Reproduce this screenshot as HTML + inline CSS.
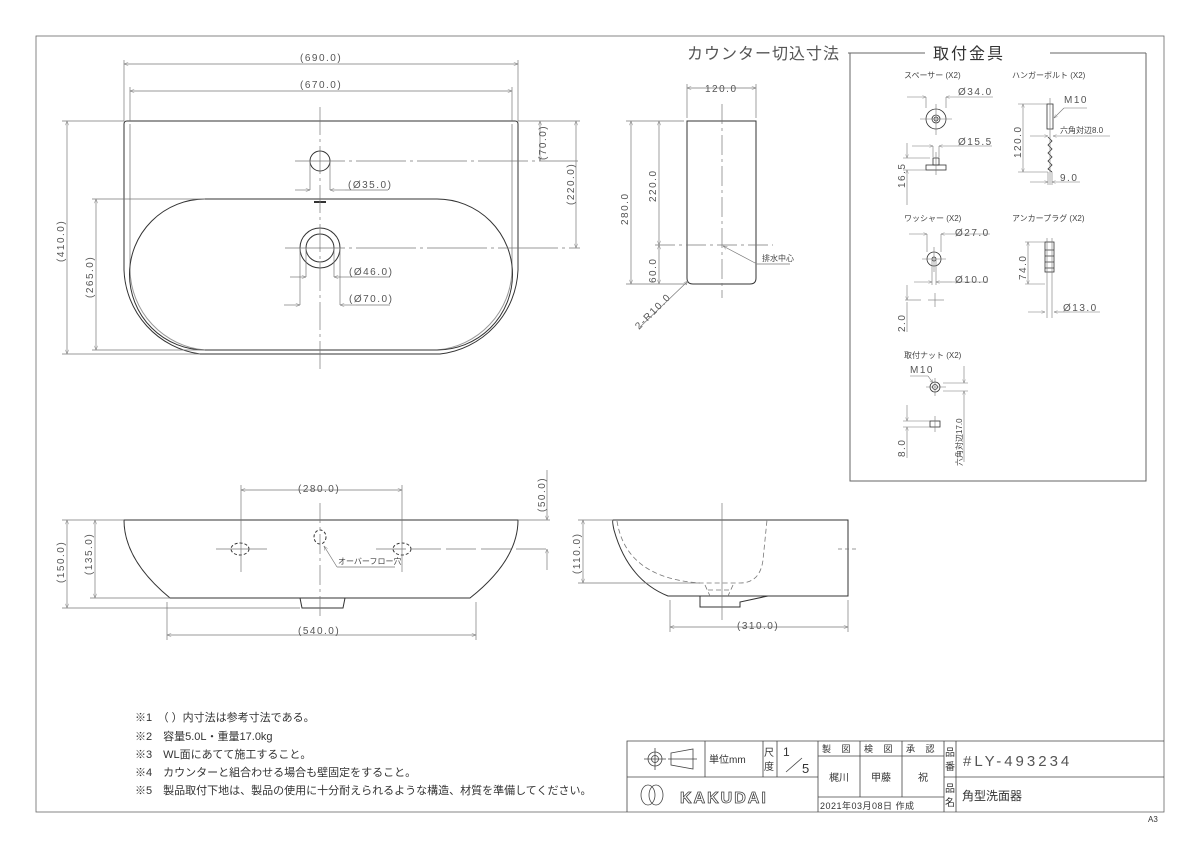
<!DOCTYPE html>
<html><head><meta charset="utf-8"><style>
html,body{margin:0;padding:0;background:#fff;width:1200px;height:848px;overflow:hidden}
svg{display:block}
text{font-family:"Liberation Sans","Noto Sans CJK JP",sans-serif;fill:#333}
.d{font-size:10px;letter-spacing:1.5px;fill:#555}
.s{font-size:8px;fill:#444}
</style></head><body>
<svg width="1200" height="848" viewBox="0 0 1200 848" xmlns="http://www.w3.org/2000/svg">
<defs>
<marker id="a" viewBox="0 0 10 10" refX="10" refY="5" markerWidth="8" markerHeight="6" orient="auto-start-reverse"><path d="M0,1 L10,5 L0,9" fill="none" stroke="#777" stroke-width="1"/></marker>
</defs>
<g fill="none" stroke="#888" stroke-width="0.8">
<rect x="36" y="36" width="1128" height="776" stroke="#666"/>
</g>
<text x="687" y="59" style="font-size:16px;letter-spacing:1px;fill:#555">カウンター切込寸法</text>
<line x1="848" y1="53" x2="925" y2="53" stroke="#666"/>
<text x="933" y="59" style="font-size:16px;letter-spacing:2px">取付金具</text>
<line x1="1050" y1="53" x2="1146" y2="53" stroke="#666"/>
<path d="M850,53 V481 H1146 V53" fill="none" stroke="#666"/>

<g fill="none" stroke="#333" stroke-width="1">
<path d="M124,124 Q124,121 127,121 H515 Q518,121 518,124 V270 A88,88 0 0 1 440,354 H200 A88,88 0 0 1 124,270 Z"/>
<path d="M130,124 V270 A82,82 0 0 0 205,350" stroke="#999"/>
<path d="M512,124 V270 A82,82 0 0 1 437,350" stroke="#999"/>
<path d="M205,199 H437 A75,75 0 0 1 437,350 H205 A75,75 0 0 1 205,199 Z"/>
<circle cx="320" cy="161" r="10"/>
<circle cx="320" cy="248" r="14"/>
<circle cx="320" cy="248" r="20"/>
<line x1="314" y1="202" x2="326" y2="202" stroke-width="2"/>
</g>
<g stroke="#777" stroke-width="0.7" fill="none">
<line x1="320" y1="107" x2="320" y2="372" stroke-dasharray="28,4,3,4"/>
<line x1="295" y1="161" x2="578" y2="161" stroke-dasharray="50,4,3,4"/>
<line x1="285" y1="248" x2="580" y2="248" stroke-dasharray="60,4,3,4"/>
<line x1="124" y1="60" x2="124" y2="121"/><line x1="518" y1="60" x2="518" y2="121"/>
<line x1="130" y1="87" x2="130" y2="121"/><line x1="512" y1="87" x2="512" y2="121"/>
<line x1="124" y1="64" x2="518" y2="64" marker-start="url(#a)" marker-end="url(#a)"/>
<line x1="130" y1="91" x2="512" y2="91" marker-start="url(#a)" marker-end="url(#a)"/>
<line x1="62" y1="121" x2="124" y2="121"/><line x1="62" y1="354" x2="200" y2="354"/>
<line x1="92" y1="199" x2="205" y2="199"/><line x1="92" y1="350" x2="205" y2="350"/>
<line x1="67" y1="121" x2="67" y2="354" marker-start="url(#a)" marker-end="url(#a)"/>
<line x1="96" y1="199" x2="96" y2="350" marker-start="url(#a)" marker-end="url(#a)"/>
<line x1="518" y1="121" x2="580" y2="121"/>
<line x1="540" y1="121" x2="540" y2="161" marker-start="url(#a)" marker-end="url(#a)"/>
<line x1="576" y1="121" x2="576" y2="248" marker-start="url(#a)" marker-end="url(#a)"/>
<line x1="310" y1="161" x2="310" y2="190"/><line x1="330" y1="161" x2="330" y2="190"/>
<line x1="295" y1="190" x2="310" y2="190" marker-end="url(#a)"/><line x1="345" y1="190" x2="330" y2="190" marker-end="url(#a)"/><line x1="345" y1="190" x2="388" y2="190"/>
<line x1="306" y1="248" x2="306" y2="277"/><line x1="334" y1="248" x2="334" y2="277"/>
<line x1="290" y1="277" x2="306" y2="277" marker-end="url(#a)"/><line x1="350" y1="277" x2="334" y2="277" marker-end="url(#a)"/><line x1="350" y1="277" x2="390" y2="277"/>
<line x1="300" y1="248" x2="300" y2="305"/><line x1="340" y1="248" x2="340" y2="305"/>
<line x1="284" y1="305" x2="300" y2="305" marker-end="url(#a)"/><line x1="356" y1="305" x2="340" y2="305" marker-end="url(#a)"/><line x1="356" y1="305" x2="390" y2="305"/>
</g>
<text class="d" x="300" y="61">(690.0)</text>
<text class="d" x="300" y="88">(670.0)</text>
<text class="d" x="348" y="188">(Ø35.0)</text>
<text class="d" x="349" y="275">(Ø46.0)</text>
<text class="d" x="349" y="302">(Ø70.0)</text>
<text class="d" transform="translate(64,262) rotate(-90)">(410.0)</text>
<text class="d" transform="translate(93,298) rotate(-90)">(265.0)</text>
<text class="d" transform="translate(546,160) rotate(-90)">(70.0)</text>
<text class="d" transform="translate(574,205) rotate(-90)">(220.0)</text>

<g fill="none" stroke="#333" stroke-width="1">
<path d="M687,121 H756 V278 Q756,284 750,284 H693 Q687,284 687,278 Z"/>
</g>
<g stroke="#777" stroke-width="0.7" fill="none">
<line x1="722" y1="104" x2="722" y2="298" stroke-dasharray="20,4,3,4"/>
<line x1="655" y1="245" x2="773" y2="245" stroke-dasharray="20,4,3,4"/>
<line x1="687" y1="84" x2="687" y2="118"/><line x1="756" y1="84" x2="756" y2="118"/>
<line x1="687" y1="88" x2="756" y2="88" marker-start="url(#a)" marker-end="url(#a)"/>
<line x1="626" y1="121" x2="684" y2="121"/><line x1="626" y1="284" x2="687" y2="284"/>
<line x1="631" y1="121" x2="631" y2="284" marker-start="url(#a)" marker-end="url(#a)"/>
<line x1="659" y1="121" x2="659" y2="245" marker-start="url(#a)" marker-end="url(#a)"/>
<line x1="659" y1="245" x2="659" y2="284" marker-start="url(#a)" marker-end="url(#a)"/>
<line x1="640" y1="327" x2="688" y2="281" marker-end="url(#a)"/>
<line x1="790" y1="264" x2="757" y2="264"/><line x1="757" y1="264" x2="723" y2="246" marker-end="url(#a)"/>
</g>
<text class="d" x="705" y="92">120.0</text>
<text class="d" transform="translate(628,225) rotate(-90)">280.0</text>
<text class="d" transform="translate(656,202) rotate(-90)">220.0</text>
<text class="d" transform="translate(656,283) rotate(-90)">60.0</text>
<text class="d" transform="translate(639,330) rotate(-45)">2-R10.0</text>
<text class="s" x="762" y="261">排水中心</text>

<g fill="none" stroke="#333" stroke-width="1">
<path d="M124,520 H518 Q518,560 470,598 H170 Q124,560 124,520 Z"/>
<path d="M300,598 L302,608 H343 L345,598"/>
<ellipse cx="240" cy="549" rx="9" ry="6" stroke-dasharray="3,2"/>
<ellipse cx="402" cy="549" rx="9" ry="6" stroke-dasharray="3,2"/>
<ellipse cx="320" cy="537" rx="6" ry="7" stroke-dasharray="3,2"/>
</g>
<g stroke="#777" stroke-width="0.7" fill="none">
<line x1="241" y1="485" x2="241" y2="572"/><line x1="402" y1="485" x2="402" y2="572"/>
<line x1="241" y1="490" x2="402" y2="490" marker-start="url(#a)" marker-end="url(#a)"/>
<line x1="216" y1="549" x2="267" y2="549"/><line x1="376" y1="549" x2="550" y2="549" stroke-dasharray="30,5"/>
<line x1="320" y1="503" x2="320" y2="620" stroke-dasharray="20,4,3,4"/>
<line x1="62" y1="520" x2="124" y2="520"/><line x1="518" y1="520" x2="550" y2="520"/>
<line x1="62" y1="608" x2="300" y2="608"/><line x1="90" y1="598" x2="170" y2="598"/>
<line x1="67" y1="520" x2="67" y2="608" marker-start="url(#a)" marker-end="url(#a)"/>
<line x1="95" y1="520" x2="95" y2="598" marker-start="url(#a)" marker-end="url(#a)"/>
<line x1="547" y1="470" x2="547" y2="520" marker-end="url(#a)"/><line x1="547" y1="570" x2="547" y2="549" marker-end="url(#a)"/>
<line x1="167" y1="602" x2="167" y2="640"/><line x1="476" y1="602" x2="476" y2="640"/>
<line x1="167" y1="635" x2="476" y2="635" marker-start="url(#a)" marker-end="url(#a)"/>
<line x1="395" y1="567" x2="337" y2="567"/><line x1="337" y1="567" x2="324" y2="546" marker-end="url(#a)"/>
</g>
<text class="d" x="298" y="492">(280.0)</text>
<text class="d" x="298" y="634">(540.0)</text>
<text class="d" transform="translate(64,583) rotate(-90)">(150.0)</text>
<text class="d" transform="translate(92,575) rotate(-90)">(135.0)</text>
<text class="d" transform="translate(545,512) rotate(-90)">(50.0)</text>
<text class="s" x="338" y="564">オーバーフロー穴</text>

<g fill="none" stroke="#333" stroke-width="1">
<path d="M613,520 H848 V596 H668 Q628,580 614,530 Q612,521 613,520 Z"/>
<path d="M700,596 V607 H740 V602 L768,596"/>
</g>
<g fill="none" stroke="#777" stroke-width="0.8" stroke-dasharray="5,3">
<path d="M617,521 Q626,578 700,583 H740 Q760,583 763,560 L767,520"/>
<path d="M705,585 L710,596 M733,585 L728,596 M708,590 H732"/>
</g>
<g stroke="#777" stroke-width="0.7" fill="none">
<line x1="722" y1="503" x2="722" y2="620"/>
<line x1="838" y1="549" x2="856" y2="549" stroke-dasharray="4,3"/>
<line x1="578" y1="520" x2="613" y2="520"/><line x1="578" y1="583" x2="700" y2="583"/>
<line x1="583" y1="520" x2="583" y2="583" marker-start="url(#a)" marker-end="url(#a)"/>
<line x1="670" y1="600" x2="670" y2="632"/><line x1="848" y1="600" x2="848" y2="632"/>
<line x1="670" y1="627" x2="848" y2="627" marker-start="url(#a)" marker-end="url(#a)"/>
</g>
<text class="d" x="737" y="629">(310.0)</text>
<text class="d" transform="translate(580,574) rotate(-90)">(110.0)</text>

<g>
<text class="s" x="904" y="78">スペーサー (X2)</text>
<text class="s" x="1012" y="78">ハンガーボルト (X2)</text>
<text class="s" x="904" y="221">ワッシャー (X2)</text>
<text class="s" x="1012" y="221">アンカープラグ (X2)</text>
<text class="s" x="904" y="358">取付ナット (X2)</text>
</g>
<g fill="none" stroke="#333" stroke-width="0.8">
<circle cx="936" cy="119" r="10"/><circle cx="936" cy="119" r="4"/><circle cx="936" cy="119" r="2"/>
<rect x="926" y="165" width="20" height="5"/><rect x="933" y="158" width="6" height="7"/>
<rect x="1047" y="104" width="6" height="25"/>
<path d="M1048,137 L1052,141 L1048,145 L1052,149 L1048,153 L1052,157 L1048,161 L1052,165 L1048,169 L1052,172"/>
<circle cx="934" cy="259" r="7"/><circle cx="934" cy="259" r="2"/>
<rect x="1045" y="242" width="9" height="30"/>
<path d="M1045,250 H1054 M1045,256 H1054 M1045,262 H1054 M1045,268 H1054"/>
<circle cx="935" cy="387" r="5"/><circle cx="935" cy="387" r="2.5"/>
<rect x="930" y="421" width="10" height="6"/>
</g>
<g stroke="#777" stroke-width="0.6" fill="none">
<line x1="936" y1="104" x2="936" y2="135"/><line x1="920" y1="119" x2="952" y2="119"/>
<line x1="926" y1="97" x2="926" y2="108"/><line x1="946" y1="97" x2="946" y2="108"/>
<line x1="907" y1="97" x2="926" y2="97" marker-end="url(#a)"/><line x1="965" y1="97" x2="946" y2="97" marker-end="url(#a)"/><line x1="965" y1="97" x2="993" y2="97"/>
<line x1="933" y1="146" x2="933" y2="157"/><line x1="939" y1="146" x2="939" y2="157"/>
<line x1="912" y1="146" x2="933" y2="146" marker-end="url(#a)"/><line x1="958" y1="146" x2="939" y2="146" marker-end="url(#a)"/><line x1="958" y1="146" x2="992" y2="146"/>
<line x1="936" y1="152" x2="936" y2="175"/>
<line x1="903" y1="158" x2="930" y2="158"/><line x1="903" y1="170" x2="926" y2="170"/>
<line x1="907" y1="143" x2="907" y2="158" marker-end="url(#a)"/><line x1="907" y1="205" x2="907" y2="170" marker-end="url(#a)"/>
<line x1="1050" y1="98" x2="1050" y2="185"/>
<line x1="1018" y1="104" x2="1047" y2="104"/><line x1="1018" y1="172" x2="1048" y2="172"/>
<line x1="1023" y1="104" x2="1023" y2="172" marker-start="url(#a)" marker-end="url(#a)"/>
<line x1="1087" y1="108" x2="1064" y2="108"/><line x1="1064" y1="108" x2="1054" y2="118" marker-end="url(#a)"/>
<line x1="1030" y1="136" x2="1048" y2="136" marker-end="url(#a)"/><line x1="1110" y1="136" x2="1053" y2="136" marker-end="url(#a)"/>
<line x1="1048" y1="172" x2="1048" y2="185"/><line x1="1052" y1="172" x2="1052" y2="185"/>
<line x1="1030" y1="182" x2="1048" y2="182" marker-end="url(#a)"/><line x1="1080" y1="182" x2="1052" y2="182" marker-end="url(#a)"/>
<line x1="934" y1="247" x2="934" y2="272"/><line x1="922" y1="259" x2="946" y2="259"/>
<line x1="927" y1="234" x2="927" y2="252"/><line x1="941" y1="234" x2="941" y2="252"/>
<line x1="909" y1="234" x2="927" y2="234" marker-end="url(#a)"/><line x1="960" y1="234" x2="941" y2="234" marker-end="url(#a)"/><line x1="960" y1="234" x2="990" y2="234"/>
<line x1="932" y1="259" x2="932" y2="285"/><line x1="936" y1="259" x2="936" y2="285"/>
<line x1="914" y1="282" x2="932" y2="282" marker-end="url(#a)"/><line x1="952" y1="282" x2="936" y2="282" marker-end="url(#a)"/><line x1="952" y1="282" x2="988" y2="282"/>
<line x1="905" y1="300" x2="921" y2="300"/><line x1="928" y1="300" x2="944" y2="300"/><line x1="935" y1="293" x2="935" y2="307"/>
<line x1="907" y1="285" x2="907" y2="300" marker-end="url(#a)"/><line x1="907" y1="332" x2="907" y2="302"/>
<line x1="1047" y1="238" x2="1047" y2="318"/><line x1="1052" y1="238" x2="1052" y2="318"/>
<line x1="1025" y1="242" x2="1045" y2="242"/><line x1="1025" y1="284" x2="1045" y2="284"/>
<line x1="1028" y1="242" x2="1028" y2="284" marker-start="url(#a)" marker-end="url(#a)"/>
<line x1="1028" y1="312" x2="1045" y2="312" marker-end="url(#a)"/><line x1="1070" y1="312" x2="1054" y2="312" marker-end="url(#a)"/><line x1="1070" y1="312" x2="1100" y2="312"/>
<line x1="910" y1="376" x2="928" y2="376"/><line x1="928" y1="376" x2="933" y2="383" marker-end="url(#a)"/>
<line x1="926" y1="387" x2="946" y2="387"/><line x1="935" y1="378" x2="935" y2="396"/>
<line x1="943" y1="383" x2="968" y2="383"/><line x1="943" y1="391" x2="968" y2="391"/>
<line x1="964" y1="366" x2="964" y2="383" marker-end="url(#a)"/><line x1="964" y1="462" x2="964" y2="391" marker-end="url(#a)"/>
<line x1="903" y1="421" x2="930" y2="421"/><line x1="903" y1="427" x2="930" y2="427"/><line x1="935" y1="416" x2="935" y2="432"/>
<line x1="907" y1="405" x2="907" y2="421" marker-end="url(#a)"/><line x1="907" y1="458" x2="907" y2="427" marker-end="url(#a)"/>
</g>
<text class="d" x="958" y="95">Ø34.0</text>
<text class="d" x="958" y="145">Ø15.5</text>
<text class="d" transform="translate(905,188) rotate(-90)">16.5</text>
<text class="d" x="1064" y="103">M10</text>
<text class="s" x="1060" y="133">六角対辺8.0</text>
<text class="d" x="1060" y="181">9.0</text>
<text class="d" transform="translate(1021,158) rotate(-90)">120.0</text>
<text class="d" x="955" y="236">Ø27.0</text>
<text class="d" x="955" y="283">Ø10.0</text>
<text class="d" transform="translate(905,332) rotate(-90)">2.0</text>
<text class="d" transform="translate(1026,280) rotate(-90)">74.0</text>
<text class="d" x="1063" y="311">Ø13.0</text>
<text class="d" x="910" y="373">M10</text>
<text class="d" transform="translate(905,457) rotate(-90)">8.0</text>
<text class="s" transform="translate(962,466) rotate(-90)">六角対辺17.0</text>

<g style="font-size:11px">
<text x="135" y="721">※1　（ ）内寸法は参考寸法である。</text>
<text x="135" y="740">※2　容量5.0L・重量17.0kg</text>
<text x="135" y="758">※3　WL面にあてて施工すること。</text>
<text x="135" y="776">※4　カウンターと組合わせる場合も壁固定をすること。</text>
<text x="135" y="794">※5　製品取付下地は、製品の使用に十分耐えられるような構造、材質を準備してください。</text>
</g>

<g fill="none" stroke="#444" stroke-width="0.8">
<path d="M627,812 V741 H1164"/>
<line x1="627" y1="777" x2="818" y2="777"/>
<line x1="944" y1="777" x2="1164" y2="777"/>
<line x1="705" y1="741" x2="705" y2="777"/>
<line x1="763" y1="741" x2="763" y2="777"/>
<line x1="777" y1="741" x2="777" y2="777"/>
<line x1="818" y1="741" x2="818" y2="812"/>
<line x1="860" y1="741" x2="860" y2="797"/>
<line x1="902" y1="741" x2="902" y2="797"/>
<line x1="944" y1="741" x2="944" y2="812"/>
<line x1="956" y1="741" x2="956" y2="812"/>
<line x1="818" y1="756" x2="944" y2="756"/>
<line x1="818" y1="797" x2="944" y2="797"/>
<circle cx="655" cy="759" r="7"/><circle cx="655" cy="759" r="3.5"/>
<path d="M644,759 H666 M655,748 V770"/>
<path d="M671,753 L693,749 V769 L671,765 Z M668,759 H697"/>
<path d="M648,785 A7,10 0 0 0 648,805 A7,10 0 0 0 648,785 Z M656,785 A7,10 0 0 1 656,805 A7,10 0 0 1 656,785 Z"/>
</g>
<text x="709" y="763" style="font-size:10px">単位mm</text>
<text x="764" y="756" style="font-size:10px">尺</text><text x="764" y="770" style="font-size:10px">度</text>
<text x="783" y="756" style="font-size:12px">1</text>
<line x1="786" y1="772" x2="802" y2="758" stroke="#444" stroke-width="0.8"/>
<text x="802" y="773" style="font-size:13px">5</text>
<text x="822" y="752" style="font-size:9px;letter-spacing:4px">製 図</text>
<text x="864" y="752" style="font-size:9px;letter-spacing:4px">検 図</text>
<text x="906" y="752" style="font-size:9px;letter-spacing:4px">承 認</text>
<text x="829" y="781" style="font-size:10px">梶川</text>
<text x="871" y="781" style="font-size:10px">甲藤</text>
<text x="918" y="781" style="font-size:10px">祝</text>
<text x="820" y="809" style="font-size:9px;letter-spacing:0.5px">2021年03月08日 作成</text>
<text x="945" y="756" style="font-size:10px">品</text><text x="945" y="770" style="font-size:10px">番</text>
<text x="945" y="792" style="font-size:10px">品</text><text x="945" y="806" style="font-size:10px">名</text>
<text x="963" y="766" style="font-size:15px;letter-spacing:3px;fill:#555">#LY-493234</text>
<text x="962" y="800" style="font-size:12px">角型洗面器</text>
<text x="680" y="803" style="font-size:16px;letter-spacing:2px;font-weight:bold;fill:#fff;stroke:#444;stroke-width:0.8">KAKUDAI</text>
<text x="1148" y="822" style="font-size:8px">A3</text>
</svg>
</body></html>
